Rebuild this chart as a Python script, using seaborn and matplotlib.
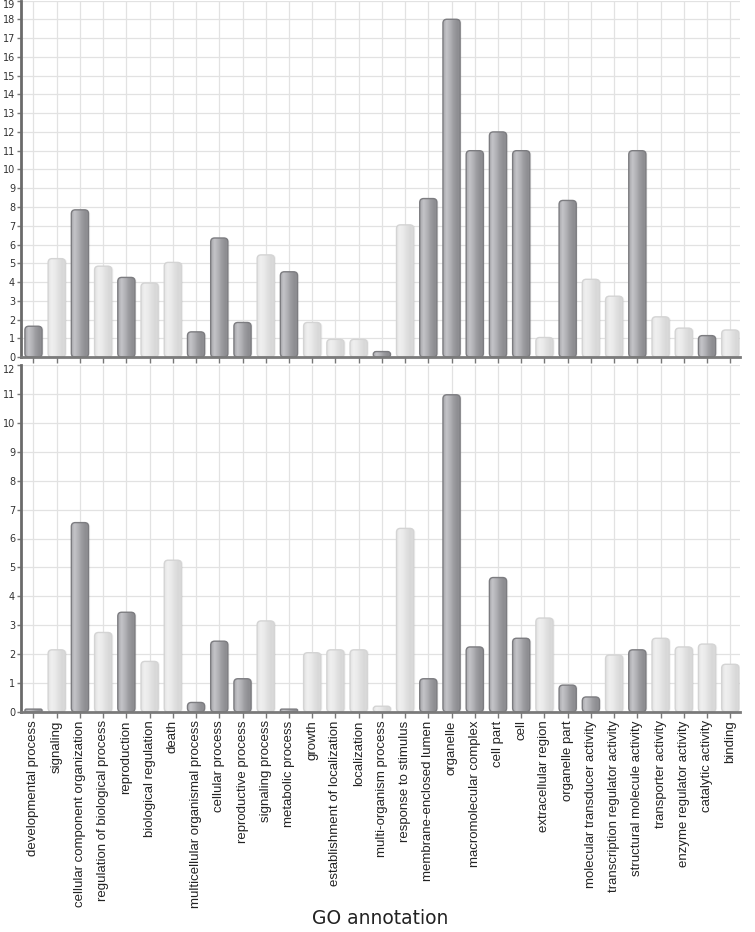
import numpy as np
import pandas as pd
import matplotlib
matplotlib.use("Agg")
import matplotlib.pyplot as plt
import seaborn as sns
from matplotlib.patches import FancyBboxPatch
from matplotlib.colors import LinearSegmentedColormap

categories = [
    "developmental process", "signaling", "cellular component organization",
    "regulation of biological process", "reproduction", "biological regulation",
    "death", "multicellular organismal process", "cellular process",
    "reproductive process", "signaling process", "metabolic process", "growth",
    "establishment of localization", "localization", "multi-organism process",
    "response to stimulus", "membrane-enclosed lumen", "organelle",
    "macromolecular complex", "cell part", "cell", "extracellular region",
    "organelle part", "molecular transducer activity",
    "transcription regulator activity", "structural molecule activity",
    "transporter activity", "enzyme regulator activity", "catalytic activity",
    "binding",
]

top_values = [1.65, 5.25, 7.85, 4.85, 4.25, 3.95, 5.05, 1.35, 6.35, 1.85,
              5.45, 4.55, 1.85, 0.95, 0.95, 0.3, 7.05, 8.45, 18.0, 11.0,
              12.0, 11.0, 1.05, 8.35, 4.15, 3.25, 11.0, 2.15, 1.55, 1.15, 1.45]
top_dark = [1, 0, 1, 0, 1, 0, 0, 1, 1, 1, 0, 1, 0, 0, 0, 1, 0, 1, 1, 1,
            1, 1, 0, 1, 0, 0, 1, 0, 0, 1, 0]

bottom_values = [0.1, 2.15, 6.55, 2.75, 3.45, 1.75, 5.25, 0.33, 2.45, 1.15,
                 3.15, 0.1, 2.05, 2.15, 2.15, 0.2, 6.35, 1.15, 10.97, 2.25,
                 4.65, 2.55, 3.25, 0.93, 0.52, 1.97, 2.15, 2.55, 2.25, 2.35, 1.65]
bottom_dark = [1, 0, 1, 0, 1, 0, 0, 1, 1, 1, 0, 1, 0, 0, 0, 0, 0, 1, 1, 1,
               1, 1, 0, 1, 1, 0, 1, 0, 0, 0, 0]

top_ymax = 19
bottom_ymax = 12
x_title = "GO annotation"

sns.set_theme(style="white")
plt.rcParams["font.family"] = ["DejaVu Sans"]

W, H = 755, 932
fig = plt.figure(figsize=(W / 100, H / 100), dpi=100)

def ax_rect(x0, y0, x1, y1):
    return [x0 / W, 1 - y1 / H, (x1 - x0) / W, (y1 - y0) / H]

ax_top = fig.add_axes(ax_rect(20.7, 0.5, 740, 357.2))
ax_bot = fig.add_axes(ax_rect(20.7, 365, 740, 712))

dark_cmap = LinearSegmentedColormap.from_list(
    "dark", ["#a8a8ac", "#c4c4c8", "#b2b2b6", "#9c9ca0", "#8e8e92", "#909094"])
light_cmap = LinearSegmentedColormap.from_list(
    "light", ["#e2e2e2", "#f0f0f0", "#eaeaea", "#e0e0e0", "#d8d8d8", "#dcdcdc"])
grad = np.linspace(0, 1, 64).reshape(1, -1)

def draw_panel(ax, values, dark, ymax):
    kinds = ["dark" if d else "light" for d in dark]
    df = pd.DataFrame({"category": categories, "value": values, "kind": kinds})
    sns.barplot(data=df, x="category", y="value", hue="kind",
                hue_order=["dark", "light"],
                palette={"dark": "#9a9a9e", "light": "#e2e2e2"},
                saturation=1, dodge=False, width=0.74, legend=False,
                ax=ax, zorder=3)
    xlim = (-0.55, len(categories) - 1 + 0.42)
    ax.set_xlim(*xlim)
    ax.set_ylim(0, ymax)
    fig.canvas.draw()
    bbox = ax.get_window_extent()
    xpx = bbox.width / (xlim[1] - xlim[0])
    ypx = bbox.height / ymax
    aspect = xpx / ypx
    rects = [p for p in ax.patches if p.get_height() > 0]
    for p in rects:
        x, y = p.get_x(), p.get_y()
        w, h = p.get_width(), p.get_height()
        idx = int(round(x + w / 2))
        is_dark = kinds[idx] == "dark"
        p.set_visible(False)
        r = min(0.17, h / aspect / 2)
        edge = "#7c7c80" if is_dark else "#d4d4d4"
        sh = FancyBboxPatch((x + 0.07, y), w, h,
                            boxstyle=f"round,pad=0,rounding_size={r}",
                            mutation_aspect=aspect, facecolor="#000000",
                            alpha=0.05, edgecolor="none", zorder=2)
        ax.add_patch(sh)
        fb = FancyBboxPatch((x, y), w, h,
                            boxstyle=f"round,pad=0,rounding_size={r}",
                            mutation_aspect=aspect, facecolor="none",
                            edgecolor=edge, linewidth=1.0, zorder=4)
        ax.add_patch(fb)
        im = ax.imshow(grad, cmap=dark_cmap if is_dark else light_cmap,
                       extent=(x, x + w, y, y + h), aspect="auto",
                       zorder=3, interpolation="bilinear")
        im.set_clip_path(fb)
    ax.set_xlim(*xlim)
    ax.set_ylim(0, ymax)
    ax.set_yticks(range(0, ymax + 1))
    ax.set_xticks(range(len(categories)))
    ax.grid(True, axis="both", color="#e2e2e2", linewidth=0.9, zorder=0)
    ax.set_axisbelow(True)
    for s in ["top", "right"]:
        ax.spines[s].set_visible(False)
    ax.spines["left"].set_color("#6a6a6a")
    ax.spines["left"].set_linewidth(2.0)
    ax.spines["bottom"].set_color("#7a7a7a")
    ax.spines["bottom"].set_linewidth(2.0)
    ax.spines["left"].set_zorder(6)
    ax.spines["bottom"].set_zorder(6)
    ax.tick_params(axis="y", which="both", left=True, length=3, width=1,
                   color="#777777", labelsize=7, labelcolor="#333333", pad=1)
    ax.tick_params(axis="x", which="both", bottom=True, length=4, width=1,
                   color="#777777")
    ax.set_xlabel("")
    ax.set_ylabel("")
    # top tick label sits just below its gridline, as in the reference
    ax.get_yticklabels()[-1].set_va("top")

draw_panel(ax_top, top_values, top_dark, top_ymax)
draw_panel(ax_bot, bottom_values, bottom_dark, bottom_ymax)

ax_top.set_xticklabels([])
ax_bot.set_xticklabels(categories, rotation=90, fontsize=9.5,
                       family=["Liberation Sans", "DejaVu Sans"], color="#222222")
ax_bot.tick_params(axis="x", pad=2)

fig.text((20.7 + 740) / 2 / W, 1 - 918 / H, x_title, ha="center", va="center",
         fontsize=13.5, color="#222222")

fig.savefig("out.png", dpi=100)
